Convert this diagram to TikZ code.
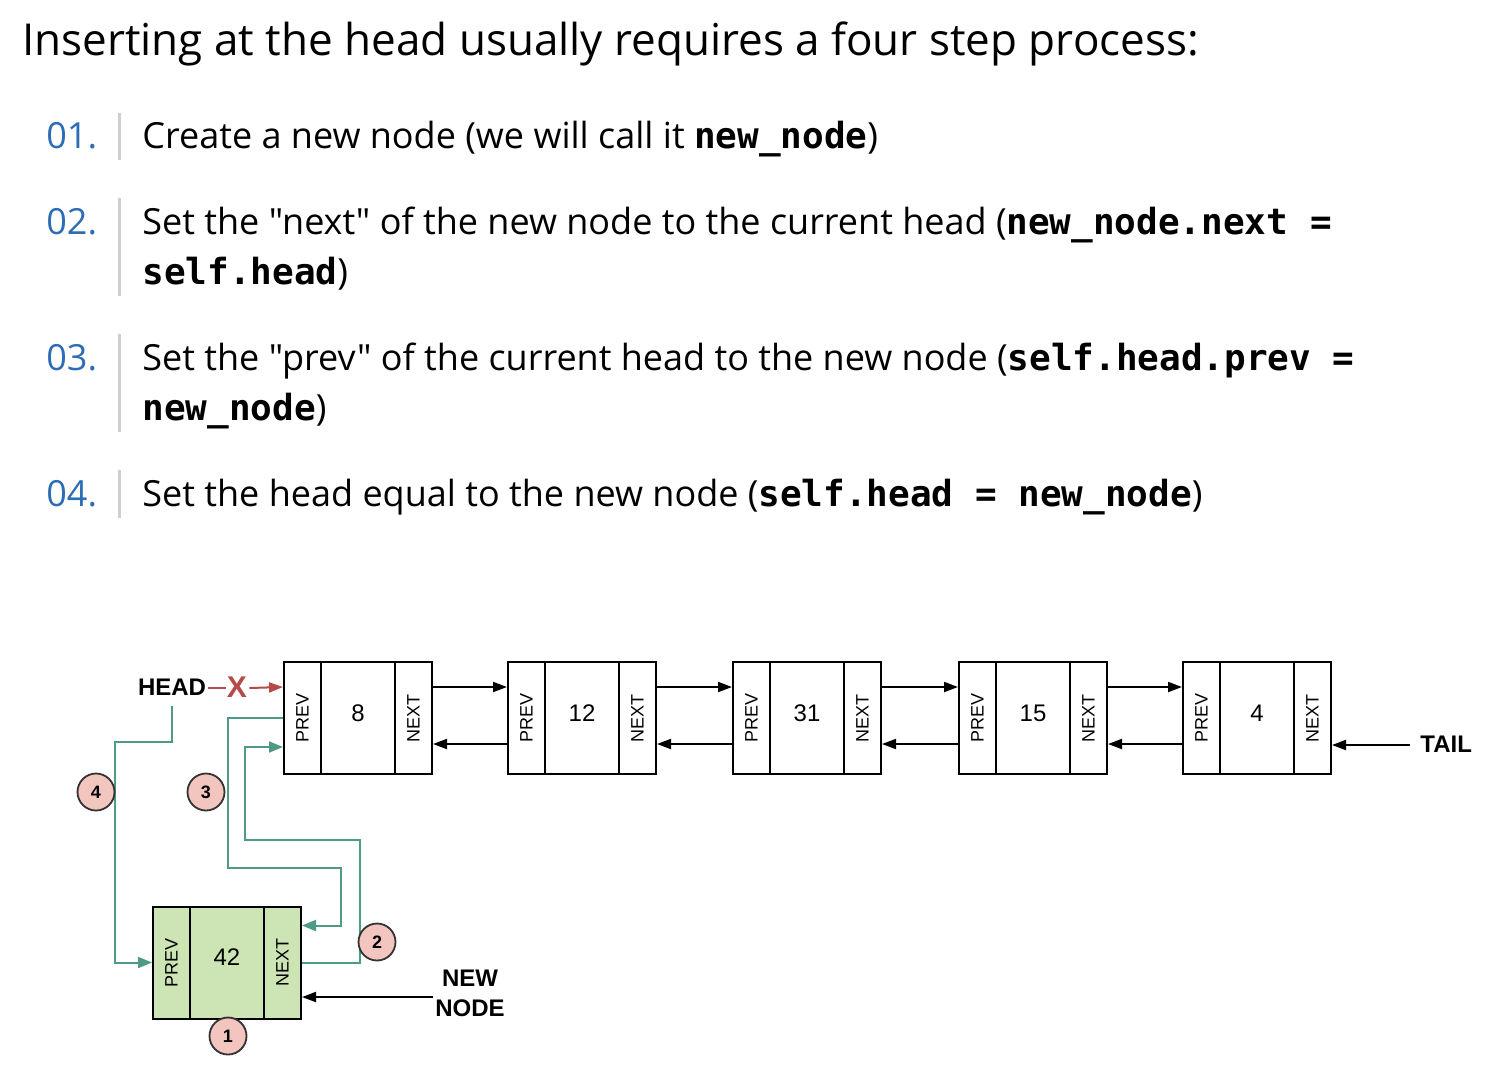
\documentclass[tikz,border=0pt]{standalone}
\usepackage{fontspec}
\setmainfont{Open Sans}
\newfontfamily\bodyfont{Open Sans}
\newfontfamily\codefont{DejaVu Sans Mono}
\newfontfamily\diagfont{Liberation Sans}
\usetikzlibrary{calc,arrows.meta}
\definecolor{blu}{HTML}{2D6DB5}
\definecolor{barg}{HTML}{CFCFCF}
\definecolor{grn}{HTML}{4E9A86}
\definecolor{nodegr}{HTML}{CDE5B4}
\definecolor{pinkc}{HTML}{F3C5BF}
\definecolor{redx}{HTML}{B54A48}
\newcommand\cde[1]{{\codefont\bfseries #1}}
\tikzset{
  body/.style={anchor=base west,inner sep=0pt,font=\bodyfont\fontsize{18}{21}\selectfont},
  num/.style={body,text=blu},
  bar/.style={barg,line width=1.5pt},
  cell/.style={draw,line width=1pt,minimum height=56pt,inner sep=0pt},
  lbl/.style={font=\diagfont\fontsize{9}{10}\selectfont,inner sep=0pt},
  val/.style={font=\diagfont\fontsize{12}{14}\selectfont,inner sep=0pt},
  tag/.style={font=\diagfont\bfseries\fontsize{12}{15}\selectfont,inner sep=0pt},
  arr/.style={line width=1pt,-{Triangle[length=7pt,width=5pt]}},
  garr/.style={grn,line width=1pt,-{Triangle[length=7pt,width=5.5pt]}},
  stepc/.style={circle,draw=black!80,fill=pinkc,line width=0.9pt,minimum size=18.5pt,inner sep=0pt,font=\diagfont\bfseries\fontsize{9}{10}\selectfont},
}
\newcommand\lnode[5]{%
  \node[cell,#5,minimum width=18.5pt] (#1-p) at ({#2+18.5},#3) {};
  \node[cell,#5,minimum width=37pt] (#1-v) at ({#2+74},#3) {};
  \node[cell,#5,minimum width=18.5pt] (#1-n) at ({#2+129.5},#3) {};
  \node[lbl,rotate=90] (#1-pl) at (#1-p) {PREV};
  \node[val] (#1-vl) at ($(#1-v)+(0,-5)$) {#4};
  \node[lbl,rotate=90] (#1-nl) at (#1-n) {NEXT};
}
\begin{document}
\begin{tikzpicture}[x=0.5pt,y=-0.5pt]
\useasboundingbox (0,0) rectangle (1486,1072);
% ---------- text ----------
\node[anchor=base west,inner sep=0pt,font=\bodyfont\fontsize{22}{26}\selectfont] (title) at (22,55) {Inserting at the head usually requires a four step process:};
\node[num] (n01) at (46,148) {01.};
\draw[bar] (119,113) -- (119,160);
\node[body] (t01) at (142,148) {Create a new node (we will call it \cde{new\_node})};
\node[num] (n02) at (46,234) {02.};
\draw[bar] (119,198) -- (119,296);
\node[body] (t02a) at (142,234) {Set the "next" of the new node to the current head (\cde{new\_node.next =}};
\node[body] (t02b) at (142,284) {\cde{self.head})};
\node[num] (n03) at (46,370) {03.};
\draw[bar] (119,334) -- (119,432);
\node[body] (t03a) at (142,370) {Set the "prev" of the current head to the new node (\cde{self.head.prev =}};
\node[body] (t03b) at (142,420) {\cde{new\_node})};
\node[num] (n04) at (46,506) {04.};
\draw[bar] (119,470) -- (119,518);
\node[body] (t04) at (142,506) {Set the head equal to the new node (\cde{self.head = new\_node})};
% ---------- list ----------
\lnode{a}{284}{718}{8}{}
\lnode{b}{508}{718}{12}{}
\lnode{c}{733}{718}{31}{}
\lnode{d}{959}{718}{15}{}
\lnode{e}{1183}{718}{4}{}
\lnode{nw}{153}{962.5}{42}{fill=nodegr}
\foreach \s/\t in {a/b,b/c,c/d,d/e}{
  \draw[arr] ($(\s-n.north east)+(0,26)$) -- ($(\t-p.north west)+(0,26)$);
  \draw[arr] ($(\t-p.north west)+(0,83)$) -- ($(\s-n.north east)+(0,83)$);
}
% tail
\node[tag,anchor=west] (tail) at (1420,744) {TAIL};
\draw[arr] ($(tail.west)+(-10,1)$) -- ($(e-n.east)+(0,27)$);
% head
\node[tag] (head) at (172,687) {HEAD};
\node[font=\diagfont\bfseries\fontsize{15}{17}\selectfont,text=redx,inner sep=0pt] (xx) at (237,687) {X};
\draw[redx,line width=1pt] ($(head.east)+(2,1)$) -- ($(xx.west)+(-1,1)$);
\draw[redx,line width=1pt,-{Triangle[length=7pt,width=5pt]}] ($(xx.east)+(2,1)$) -- ($(a-p.north west)+(0,26)$);
% new node label
\node[tag,align=center] (newl) at (470,993) {NEW\\[0pt]NODE};
\draw[arr] ($(a-n.east |- newl.west)+(0,4)$) -- ($(nw-n.east)+(0,34.5)$);
% green paths
\draw[garr] ($(head.south)+(0,10)$) |- (115,742) |- (nw-p.west);
\draw[garr] (a-p.west) -| (228,868) -- (341,868) |- ($(nw-n.east)+(0,-37)$);
\draw[garr] (nw-n.east) -| (360,840) -| (245,747) -- ($(a-p.west)+(0,29)$);
% step circles
\node[stepc] (s4) at (96,792) {4};
\node[stepc] (s3) at (206,792) {3};
\node[stepc] (s2) at (377,942) {2};
\node[stepc] (s1) at (228,1036) {1};
\end{tikzpicture}
\end{document}
